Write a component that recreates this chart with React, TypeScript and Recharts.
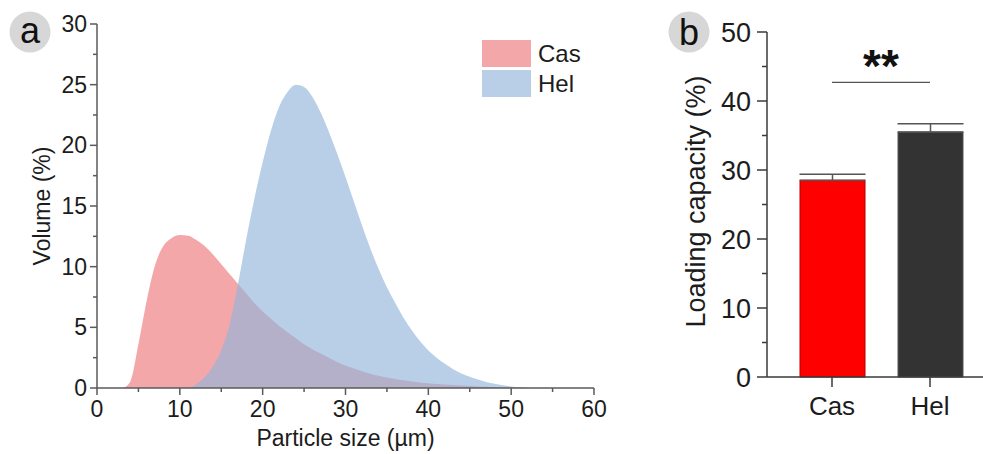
import React from "react"
import { AreaChart, Area, XAxis, YAxis, Legend, BarChart, Bar, ErrorBar, ReferenceLine, Cell } from "recharts"

// panel a: particle size distribution
const particleSize = [
  0, 1, 2, 3, 4, 5, 6, 7, 8, 9, 10, 11, 12, 13, 14, 15, 16, 17, 18, 19, 20,
  21, 22, 23, 24, 25, 26, 27, 28, 29, 30, 31, 32, 33, 34, 35, 36, 37, 38, 39, 40,
  41, 42, 43, 44, 45, 46, 47, 48, 49, 50, 51, 52, 53, 54, 55, 56, 57, 58, 59, 60,
]
const casVolume = [
  0, 0, 0, 0, 0.5, 3.6, 7.2, 10.1, 11.7, 12.35, 12.6, 12.55, 12.2, 11.7, 11.0, 10.2, 9.4, 8.6, 7.8, 7.0, 6.3,
  5.7, 5.1, 4.6, 4.1, 3.6, 3.2, 2.85, 2.5, 2.15, 1.85, 1.6, 1.38, 1.18, 1.0, 0.86, 0.74, 0.63, 0.54, 0.46, 0.39,
  0.33, 0.28, 0.24, 0.2, 0.16, 0.13, 0.1, 0.07, 0.05, 0.03, 0.02, 0.01, 0, 0, 0, 0, 0, 0, 0, 0,
]
const helVolume = [
  0, 0, 0, 0, 0, 0, 0, 0, 0, 0, 0, 0, 0.3, 0.9, 1.8, 3.1, 5.2, 8.5, 12.2, 15.6, 18.6,
  21.2, 23.2, 24.4, 25.0, 24.8, 24.0, 22.7, 21.1, 19.3, 17.4, 15.4, 13.4, 11.5, 9.8, 8.3, 7.0, 5.8, 4.75, 3.85, 3.1,
  2.5, 2.0, 1.55, 1.2, 0.93, 0.7, 0.5, 0.35, 0.22, 0.13, 0.07, 0.03, 0.01, 0, 0, 0, 0, 0, 0, 0,
]
const sizeTicks = [0, 5, 10, 15, 20, 25, 30, 35, 40, 45, 50, 55, 60]
const volumeTicks = [0, 2.5, 5, 7.5, 10, 12.5, 15, 17.5, 20, 22.5, 25, 27.5, 30]

// panel b: loading capacity
const samples = ["Cas", "Hel"]
const loading = [28.5, 35.5]
const loadingErr = [0.9, 1.2]
const loadingTicks = [0, 5, 10, 15, 20, 25, 30, 35, 40, 45, 50]
const sigLevel = 42.7
const sigText = "**"

const FONT = '"Liberation Sans", Arial, sans-serif'
const AXIS_A = "#5a5a5a"
const AXIS_B = "#3a3a3a"
const TEXT = "#1c1c1c"
const CAS_FILL = "#F4A7A9"
const HEL_FILL = "#92B5DA"
const HEL_OPACITY = 0.65
const BAR_FILLS = ["#FF0000", "#333333"]
const BAR_STROKES = ["#B40000", "#555555"]

const sizeData = particleSize.map((s, i) => ({ size: s, cas: casVolume[i], hel: helVolume[i] }))
const loadData = samples.map((name, i) => ({ name, value: loading[i], err: [0, loadingErr[i]] }))

function SizeTick({ x, y, payload }: any) {
  const major = payload.value % 10 === 0
  return (
    <g>
      <line x1={x} y1={y} x2={x} y2={y + (major ? 7 : 4)} stroke={AXIS_A} strokeWidth={1.5} />
      {major && (
        <text x={x} y={y + 29} textAnchor="middle" fontSize={23} fill={TEXT} fontFamily={FONT}>
          {payload.value}
        </text>
      )}
    </g>
  )
}

function VolumeTick({ x, y, payload }: any) {
  const major = payload.value % 5 === 0
  return (
    <g>
      <line x1={x} y1={y} x2={x - (major ? 7 : 4)} y2={y} stroke={AXIS_A} strokeWidth={1.5} />
      {major && (
        <text x={x - 10} y={y + 8} textAnchor="end" fontSize={23} fill={TEXT} fontFamily={FONT}>
          {payload.value}
        </text>
      )}
    </g>
  )
}

function LoadingTick({ x, y, payload }: any) {
  const major = payload.value % 10 === 0
  return (
    <g>
      <line x1={x} y1={y} x2={x - (major ? 10 : 5)} y2={y} stroke={AXIS_B} strokeWidth={1.5} />
      {major && (
        <text x={x - 16} y={y + 9.5} textAnchor="end" fontSize={27} fill={TEXT} fontFamily={FONT}>
          {payload.value}
        </text>
      )}
    </g>
  )
}

function SampleTick({ x, y, payload }: any) {
  return (
    <g>
      <line x1={x} y1={y} x2={x} y2={y + 10} stroke={AXIS_B} strokeWidth={1.5} />
      <text x={x} y={y + 38} textAnchor="middle" fontSize={26} fill={TEXT} fontFamily={FONT}>
        {payload.value}
      </text>
    </g>
  )
}

function SizeLegend() {
  const items = [
    { name: "Cas", color: CAS_FILL, opacity: 1 },
    { name: "Hel", color: HEL_FILL, opacity: HEL_OPACITY },
  ]
  return (
    <div style={{ fontFamily: FONT }}>
      {items.map((it) => (
        <div key={it.name} style={{ display: "flex", alignItems: "center", height: 27, marginBottom: 3 }}>
          <span style={{ width: 49, height: 27, background: it.color, opacity: it.opacity, display: "inline-block" }} />
          <span style={{ marginLeft: 7, fontSize: 24, color: TEXT }}>{it.name}</span>
        </div>
      ))}
    </div>
  )
}

function Badge({ cx, cy, letter, baseline }: { cx: number; cy: number; letter: string; baseline: number }) {
  return (
    <g>
      <circle cx={cx} cy={cy} r={20.5} fill="#D7D7D7" />
      <text x={cx} y={baseline} textAnchor="middle" fontSize={36} fill="#111" fontFamily={FONT}>
        {letter}
      </text>
    </g>
  )
}

export default function App() {
  return (
    <div style={{ position: "absolute", left: 0, top: 0, width: 983, height: 454, background: "#fff", fontFamily: FONT }}>
      <div style={{ position: "absolute", left: 0, top: 0 }}>
        <AreaChart width={620} height={454} data={sizeData} margin={{ top: 24, right: 26, bottom: 0, left: 0 }}>
          <XAxis
            dataKey="size"
            type="number"
            domain={[0, 60]}
            ticks={sizeTicks}
            interval={0}
            height={66}
            tickSize={0}
            tickMargin={0}
            tickLine={false}
            tick={<SizeTick />}
            stroke={AXIS_A}
            strokeWidth={1.5}
            label={{
              content: (p: any) => (
                <text
                  x={p.viewBox.x + p.viewBox.width / 2}
                  y={p.viewBox.y + 58}
                  textAnchor="middle"
                  fontSize={23}
                  fill={TEXT}
                  fontFamily={FONT}
                >
                  Particle size (µm)
                </text>
              ),
            }}
          />
          <XAxis xAxisId="top" orientation="top" type="number" domain={[0, 60]} height={0} tick={false} tickLine={false} stroke={AXIS_A} strokeWidth={1.5} />
          <YAxis
            type="number"
            domain={[0, 30]}
            ticks={volumeTicks}
            interval={0}
            width={97}
            tickSize={0}
            tickMargin={0}
            tickLine={false}
            tick={<VolumeTick />}
            stroke={AXIS_A}
            strokeWidth={1.5}
            label={{
              content: (p: any) => {
                const cx = p.viewBox.x + 42
                const cy = p.viewBox.y + p.viewBox.height / 2
                return (
                  <text x={cx} y={cy} transform={`rotate(-90 ${cx} ${cy})`} textAnchor="middle" dominantBaseline="central" fontSize={23} fill={TEXT} fontFamily={FONT}>
                    Volume (%)
                  </text>
                )
              },
            }}
          />
          <YAxis yAxisId="right" orientation="right" type="number" domain={[0, 30]} width={0} tick={false} tickLine={false} stroke={AXIS_A} strokeWidth={1.5} />
          <Legend
            layout="vertical"
            align="center"
            verticalAlign="middle"
            content={<SizeLegend />}
            wrapperStyle={{ position: "absolute", left: 482, top: 40, width: "auto" }}
          />
          <Area type="monotone" dataKey="cas" name="Cas" fill={CAS_FILL} fillOpacity={1} stroke="none" isAnimationActive={false} />
          <Area type="monotone" dataKey="hel" name="Hel" fill={HEL_FILL} fillOpacity={HEL_OPACITY} stroke="none" isAnimationActive={false} />
        </AreaChart>
      </div>

      <div style={{ position: "absolute", left: 620, top: 0 }}>
        <BarChart width={363} height={454} data={loadData} margin={{ top: 32, right: 0, bottom: 0, left: 0 }}>
          <XAxis
            dataKey="name"
            height={77}
            padding={{ left: 16, right: 4 }}
            tickSize={0}
            tickMargin={0}
            tickLine={false}
            tick={<SampleTick />}
            stroke={AXIS_B}
            strokeWidth={1.5}
          />
          <YAxis
            type="number"
            domain={[0, 50]}
            ticks={loadingTicks}
            interval={0}
            width={147}
            tickSize={0}
            tickMargin={0}
            tickLine={false}
            tick={<LoadingTick />}
            stroke={AXIS_B}
            strokeWidth={1.5}
            label={{
              content: (p: any) => {
                const cx = p.viewBox.x + 76
                const cy = p.viewBox.y + p.viewBox.height / 2 - 3
                return (
                  <text x={cx} y={cy} transform={`rotate(-90 ${cx} ${cy})`} textAnchor="middle" dominantBaseline="central" fontSize={27} fill={TEXT} fontFamily={FONT}>
                    Loading capacity (%)
                  </text>
                )
              },
            }}
          />
          <Bar dataKey="value" barSize={65} strokeWidth={1} isAnimationActive={false}>
            {loadData.map((d, i) => (
              <Cell key={d.name} fill={BAR_FILLS[i]} stroke={BAR_STROKES[i]} />
            ))}
            <ErrorBar dataKey="err" width={33} stroke="#555" strokeWidth={1.5} direction="y" />
          </Bar>
          <ReferenceLine
            segment={[
              { x: samples[0], y: sigLevel },
              { x: samples[1], y: sigLevel },
            ]}
            stroke="#555"
            strokeWidth={1.2}
            label={{
              content: (p: any) => (
                <text
                  x={p.viewBox.x + p.viewBox.width / 2}
                  y={p.viewBox.y}
                  textAnchor="middle"
                  fontSize={46}
                  fontWeight="bold"
                  fill="#111"
                  fontFamily={FONT}
                >
                  {sigText}
                </text>
              ),
            }}
          />
        </BarChart>
      </div>

      <svg width={983} height={454} style={{ position: "absolute", left: 0, top: 0, pointerEvents: "none" }}>
        <Badge cx={30} cy={32} letter="a" baseline={43} />
        <Badge cx={689} cy={32} letter="b" baseline={45} />
      </svg>
    </div>
  )
}
